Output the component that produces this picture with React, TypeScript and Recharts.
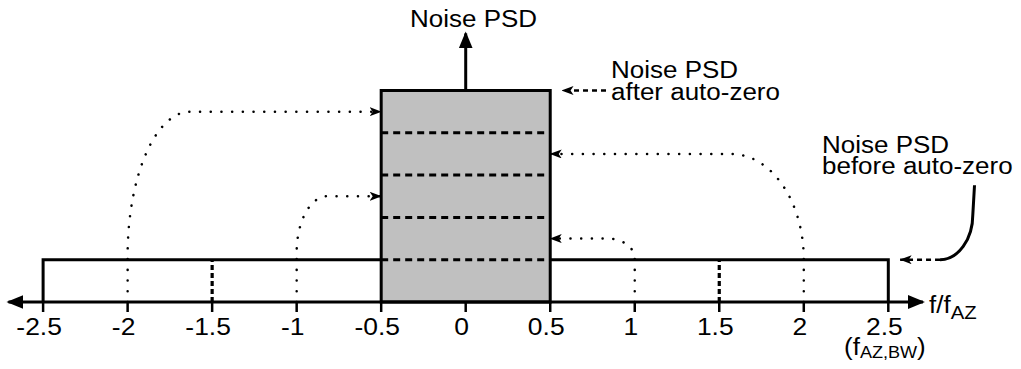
import { LineChart, Line, XAxis, YAxis, ReferenceArea } from "recharts";

const W = 1021;
const H = 369;
const FONT = "'Liberation Sans', Arial, Helvetica, sans-serif";

// frequency axis, in units of f/fAZ
const TICKS = [-2.5, -2, -1.5, -1, -0.5, 0, 0.5, 1, 1.5, 2, 2.5];
const AXIS_LINE = [{ x: -2.705, y: 0 }, { x: 2.705, y: 0 }];

// white noise before auto-zero (flat up to fAZ,BW = 2.5)
const BEFORE_LEFT = [{ x: -2.5, y: 0 }, { x: -2.5, y: 1 }, { x: -0.5, y: 1 }];
const BEFORE_RIGHT = [{ x: 0.5, y: 1 }, { x: 2.5, y: 1 }, { x: 2.5, y: 0 }];

// baseband after auto-zero: 5 folded copies stacked
const AFTER_X = [-0.5, 0.5];
const AFTER_TOP = 5;
const AFTER_LEVELS = [1, 2, 3, 4];

// fold-back paths: start, bend start, corner, bend end, arrow tip
const FOLD_NEG2 = [{ x: -2, y: 0 }, { x: -2, y: 1.1 }, { x: -2, y: 4.5 }, { x: -1.63, y: 4.5 }, { x: -0.5, y: 4.5 }];
const FOLD_NEG1 = [{ x: -1, y: 0 }, { x: -1, y: 1.17 }, { x: -1, y: 2.5 }, { x: -0.82, y: 2.5 }, { x: -0.5, y: 2.5 }];
const FOLD_POS1 = [{ x: 1, y: 0 }, { x: 1, y: 1.03 }, { x: 1, y: 1.5 }, { x: 0.84, y: 1.5 }, { x: 0.5, y: 1.5 }];
const FOLD_POS2 = [{ x: 2, y: 0 }, { x: 2, y: 1.0 }, { x: 2, y: 3.5 }, { x: 1.57, y: 3.5 }, { x: 0.5, y: 3.5 }];
const HALF_MARKS = [
  [{ x: -1.5, y: 0 }, { x: -1.5, y: 1 }],
  [{ x: 1.5, y: 0 }, { x: 1.5, y: 1 }],
];

// annotation arrows
const PSD_ARROW = [{ x: 0, y: 5 }, { x: 0, y: 6.35 }];
const AFTER_POINTER = [{ x: 0.83, y: 5 }, { x: 0.57, y: 5 }];
const BEFORE_CURVE = [{ x: 3.01, y: 2.76 }, { x: 3.0, y: 2.07 }, { x: 3.0, y: 1 }, { x: 2.806, y: 1 }, { x: 2.806, y: 1 }];
const BEFORE_POINTER = [{ x: 2.806, y: 1 }, { x: 2.57, y: 1 }];

// straight segments with one rounded corner (quarter-ellipse bend)
function cornerCurve(context: any) {
  let pts: [number, number][] = [];
  return {
    areaStart() {},
    areaEnd() {},
    lineStart() {
      pts = [];
    },
    point(x: number, y: number) {
      pts.push([+x, +y]);
    },
    lineEnd() {
      if (!pts.length) return;
      context.moveTo(pts[0][0], pts[0][1]);
      if (pts.length === 5) {
        const [, a, c, b, e] = pts;
        const k = 0.552;
        context.lineTo(a[0], a[1]);
        context.bezierCurveTo(
          a[0] + k * (c[0] - a[0]),
          a[1] + k * (c[1] - a[1]),
          b[0] + k * (c[0] - b[0]),
          b[1] + k * (c[1] - b[1]),
          b[0],
          b[1]
        );
        context.lineTo(e[0], e[1]);
      } else {
        for (let i = 1; i < pts.length; i++) context.lineTo(pts[i][0], pts[i][1]);
      }
    },
  };
}

const base = {
  dataKey: "y",
  dot: false,
  activeDot: false,
  isAnimationActive: false,
  legendType: "none" as const,
  stroke: "#000",
};

function Note({ x, y, size = 23, anchor = "start", children }: any) {
  return (
    <text
      transform={`translate(${x},${y}) scale(1.13,1)`}
      fontFamily={FONT}
      fontSize={size}
      textAnchor={anchor}
      fill="#000"
    >
      {children}
    </text>
  );
}

function Tick({ x, y, payload }: any) {
  return (
    <text
      transform={`translate(${x - 4},${y + 20.5}) scale(1.15,1)`}
      fontFamily={FONT}
      fontSize={23}
      textAnchor="middle"
      fill="#000"
    >
      {payload.value}
    </text>
  );
}

export default function App() {
  return (
    <div style={{ width: W, height: H, background: "#fff", position: "relative" }}>
      <style>{"body{margin:0}"}</style>
      <svg width={0} height={0} style={{ position: "absolute" }}>
        <defs>
          <marker id="bigHead" viewBox="0 0 17 14" markerUnits="userSpaceOnUse" markerWidth={17} markerHeight={14} refX={15} refY={7} orient="auto-start-reverse">
            <path d="M0,0 L17,7 L0,14 Z" fill="#000" />
          </marker>
          <marker id="smallHead" viewBox="0 0 12 9" markerUnits="userSpaceOnUse" markerWidth={12} markerHeight={9} refX={11.5} refY={4.5} orient="auto">
            <path d="M0,0 L12,4.5 L0,9 L3,4.5 Z" fill="#000" />
          </marker>
        </defs>
      </svg>
      <LineChart width={W} height={H} margin={{ top: 0, right: 0, bottom: 0, left: 0 }}>
        <XAxis
          type="number"
          dataKey="x"
          domain={[-2.755, 3.285]}
          ticks={TICKS}
          interval={0}
          height={67}
          axisLine={false}
          tickSize={10}
          tickMargin={2}
          tickLine={{ stroke: "#000", strokeWidth: 2.5 }}
          tick={(p: any) => <Tick {...p} />}
        />
        <YAxis type="number" dataKey="y" domain={[0, 7.14]} hide />

        <ReferenceArea
          x1={AFTER_X[0]}
          x2={AFTER_X[1]}
          y1={0}
          y2={AFTER_TOP}
          fill="#c0c0c0"
          fillOpacity={1}
          stroke="#000"
          strokeWidth={3}
        />

        {AFTER_LEVELS.map((lv) => (
          <Line
            key={`lv${lv}`}
            {...base}
            data={AFTER_X.map((x) => ({ x, y: lv }))}
            strokeWidth={3}
            strokeDasharray="7 5"
          />
        ))}

        <Line {...base} data={BEFORE_LEFT} strokeWidth={3} />
        <Line {...base} data={BEFORE_RIGHT} strokeWidth={3} />

        {HALF_MARKS.map((d, i) => (
          <Line key={`hm${i}`} {...base} data={d} strokeWidth={3.2} strokeDasharray="5 3" />
        ))}

        {[FOLD_NEG2, FOLD_NEG1, FOLD_POS1, FOLD_POS2].map((d, i) => (
          <Line
            key={`fold${i}`}
            {...base}
            data={d}
            type={cornerCurve as any}
            strokeWidth={2.5}
            strokeLinecap="round"
            strokeDasharray="0.1 10.6"
            markerEnd="url(#smallHead)"
          />
        ))}

        <Line {...base} data={AXIS_LINE} strokeWidth={3} markerStart="url(#bigHead)" markerEnd="url(#bigHead)" />
        <Line {...base} data={PSD_ARROW} strokeWidth={3} markerEnd="url(#bigHead)" />
        <Line {...base} data={AFTER_POINTER} strokeWidth={2.5} strokeDasharray="5 4" markerEnd="url(#smallHead)" />
        <Line {...base} data={BEFORE_CURVE} type={cornerCurve as any} strokeWidth={3} />
        <Line {...base} data={BEFORE_POINTER} strokeWidth={2.5} strokeDasharray="5 4" markerEnd="url(#smallHead)" />

        <Note x={410} y={27}>Noise PSD</Note>
        <Note x={611} y={78}>
          <tspan x={0} y={0}>Noise PSD</tspan>
          <tspan x={0} dy={22}>after auto-zero</tspan>
        </Note>
        <Note x={822} y={153}>
          <tspan x={0} y={0}>Noise PSD</tspan>
          <tspan x={0} dy={21}>before auto-zero</tspan>
        </Note>
        <Note x={929} y={313}>
          f/f<tspan fontSize={18} dy={5.5}>AZ</tspan>
        </Note>
        <Note x={844} y={355}>
          (f<tspan fontSize={16} dy={2.5}>AZ,BW</tspan>
          <tspan dy={-2.5}>)</tspan>
        </Note>
      </LineChart>
    </div>
  );
}
